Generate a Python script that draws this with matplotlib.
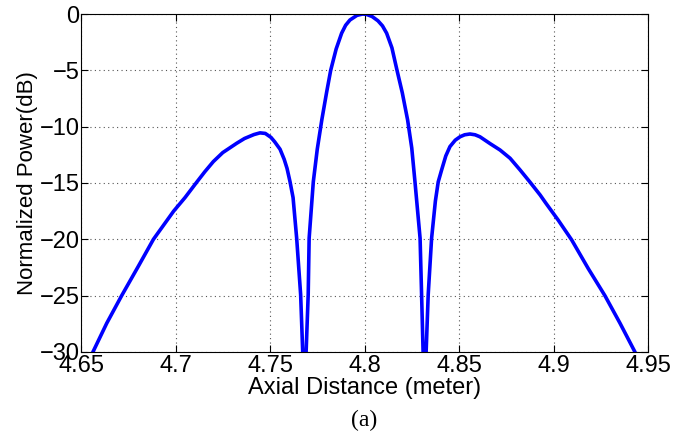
import numpy as np
import matplotlib.pyplot as plt

# Values
axial_m = [4.6545, 4.6563, 4.6636, 4.6715, 4.6803, 4.6883, 4.6990, 4.7050,
           4.7112, 4.7155, 4.7200, 4.7250, 4.7324, 4.7365, 4.7415,
           4.7447, 4.7475, 4.7505, 4.7525, 4.7553, 4.7575, 4.7590, 4.7606,
           4.7622, 4.7641, 4.7662, 4.7673, 4.7682, 4.7691, 4.7702, 4.7707,
           4.7729, 4.7750, 4.7774, 4.7800, 4.7821, 4.7850, 4.7879, 4.7900,
           4.7923, 4.7960, 4.7990, 4.8010, 4.8040, 4.8071, 4.8095, 4.8117,
           4.8145, 4.8172, 4.8200, 4.8228, 4.8250, 4.8267, 4.8294, 4.8302,
           4.8310, 4.8317, 4.8326, 4.8337, 4.8355, 4.8375, 4.8390, 4.8408,
           4.8430, 4.8452, 4.8480, 4.8505, 4.8530, 4.8558, 4.8585, 4.8611,
           4.8664, 4.8717, 4.8770, 4.8823, 4.8876, 4.8929, 4.8960, 4.9025,
           4.9096, 4.9184, 4.9272, 4.9352, 4.9431, 4.9450]
power_db = [-31.0, -30.0, -27.45, -25.0, -22.4, -20.0, -17.5, -16.3,
            -14.93, -14.0, -13.1, -12.3, -11.47, -11.05, -10.7,
            -10.55, -10.6, -10.95, -11.35, -12.0, -12.9, -13.7, -14.9,
            -16.3, -19.9, -24.9, -30.0, -45.0, -30.0, -24.9, -19.9,
            -14.9, -12.0, -9.4, -6.9, -5.0, -3.1, -1.7, -1.0,
            -0.53, -0.12, 0.0, -0.03, -0.22, -0.6, -1.05, -1.7,
            -3.0, -5.0, -7.0, -9.4, -11.9, -14.9, -19.9, -24.9,
            -30.0, -45.0, -30.0, -24.9, -19.9, -16.6, -14.9, -13.84,
            -12.6, -11.77, -11.2, -10.9, -10.72, -10.65, -10.72, -10.9,
            -11.5, -12.07, -12.8, -13.84, -14.93, -16.06, -16.8, -18.3,
            -20.05, -22.6, -25.0, -27.45, -30.0, -31.0]

x_ticks = [4.65, 4.7, 4.75, 4.8, 4.85, 4.9, 4.95]
x_labels = ['4.65', '4.7', '4.75', '4.8', '4.85', '4.9', '4.95']
y_ticks = [-30, -25, -20, -15, -10, -5, 0]

plt.rcParams['font.family'] = ['Liberation Sans', 'DejaVu Sans']

fig = plt.figure(figsize=(6.89, 4.34), dpi=100)
ax = fig.add_axes([0.1176, 0.189, 0.8229, 0.7787])

ax.plot(axial_m, power_db, color='#0000ff', linewidth=2.6,
        solid_joinstyle='round')

ax.set_xlim(4.65, 4.95)
ax.set_ylim(-30, 0)
ax.set_xticks(x_ticks)
ax.set_xticklabels(x_labels)
ax.set_yticks(y_ticks)
ax.grid(True, linestyle=(0, (1, 3)), color='#555555', linewidth=0.8)
ax.tick_params(direction='in', length=5, width=0.8, labelsize=17,
               top=True, right=True, pad=1)
ax.tick_params(axis='x', pad=2)
for s in ax.spines.values():
    s.set_linewidth(0.8)

ax.set_xlabel('Axial Distance (meter)', fontsize=17, labelpad=0)
ax.set_ylabel('Normalized Power(dB)', fontsize=16, labelpad=1)
fig.text(0.528, 0.032, '(a)', fontsize=17, family='Liberation Serif',
         ha='center', va='center')

fig.savefig('out.png', dpi=100)
